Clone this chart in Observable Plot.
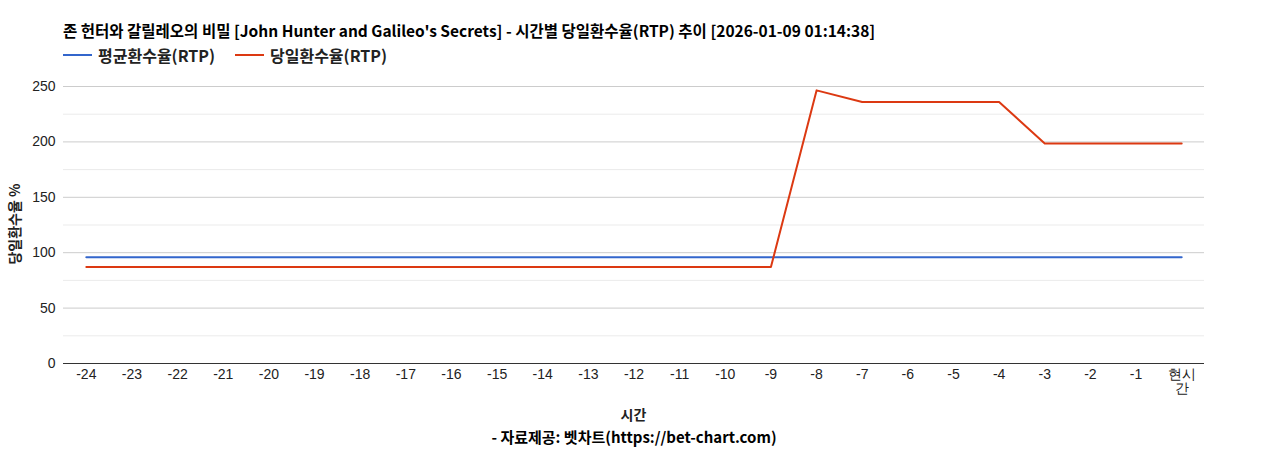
<!DOCTYPE html>
<html>
<head>
<meta charset="utf-8">
<script src="https://cdn.jsdelivr.net/npm/d3@7"></script>
<script src="https://cdn.jsdelivr.net/npm/@observablehq/plot@0.6"></script>
<style>
  html, body { margin: 0; padding: 0; background: #fff; }
  body { width: 1268px; height: 450px; position: relative; overflow: hidden; font-family: "Noto Sans CJK KR", "Noto Sans", sans-serif; }
  #title { position: absolute; left: 63px; top: 19px; font-size: 15.5px; font-weight: bold; color: #000; white-space: nowrap; line-height: 22px; }
  #legend { position: absolute; left: 63px; top: 44px; font-size: 16px; font-weight: bold; color: #222; white-space: nowrap; line-height: 22px; display: flex; align-items: center; }
  .sw { display: inline-block; width: 29px; height: 2px; margin-right: 6px; }
  .item { display: flex; align-items: center; margin-right: 20px; }
  #chart { position: absolute; left: 0; top: 70px; }
  #xlabel { position: absolute; left: 63px; width: 1141px; text-align: center; top: 403px; font-size: 14px; font-weight: bold; color: #222; line-height: 22px; }
  #caption { position: absolute; left: 0; width: 1268px; text-align: center; top: 426px; font-size: 15px; font-weight: bold; color: #000; line-height: 22px; }
</style>
</head>
<body>
<div id="title"></div>
<div id="legend"></div>
<div id="chart"></div>
<div id="xlabel">시간</div>
<div id="caption">- 자료제공: 벳차트(https://bet-chart.com)</div>
<script>
const titleText = "존 헌터와 갈릴레오의 비밀 [John Hunter and Galileo's Secrets] - 시간별 당일환수율(RTP) 추이 [2026-01-09 01:14:38]";
const hours = ["-24","-23","-22","-21","-20","-19","-18","-17","-16","-15","-14","-13","-12","-11","-10","-9","-8","-7","-6","-5","-4","-3","-2","-1","현시간"];
const avgRTP = [96,96,96,96,96,96,96,96,96,96,96,96,96,96,96,96,96,96,96,96,96,96,96,96,96];
const dailyRTP = [87,87,87,87,87,87,87,87,87,87,87,87,87,87,87,87,246.5,236,236,236,236,198.5,198.5,198.5,198.5];
const seriesNames = ["평균환수율(RTP)", "당일환수율(RTP)"];
const seriesColors = ["#3366cc", "#dc3912"];
const yTicks = [0, 50, 100, 150, 200, 250];
const yMinor = [25, 75, 125, 175, 225];

document.getElementById("title").textContent = titleText;
const legend = document.getElementById("legend");
seriesNames.forEach((n, i) => {
  const it = document.createElement("span");
  it.className = "item";
  it.innerHTML = `<span class="sw" style="background:${seriesColors[i]}"></span>${n}`;
  legend.appendChild(it);
});

const rows = [];
hours.forEach((h, i) => {
  rows.push({hour: h, value: avgRTP[i], series: seriesNames[0]});
  rows.push({hour: h, value: dailyRTP[i], series: seriesNames[1]});
});

const plot = Plot.plot({
  width: 1268,
  height: 340,
  marginLeft: 63,
  marginRight: 64,
  marginTop: 16,
  marginBottom: 47,
  style: {fontFamily: "'Liberation Sans', Arial, sans-serif", fontSize: "14px", color: "#222", background: "#fff"},
  x: {type: "point", domain: hours, padding: 0.5, round: false},
  y: {domain: [0, 250]},
  color: {domain: seriesNames, range: seriesColors},
  marks: [
    Plot.ruleY(yMinor, {stroke: "#ebebeb", strokeWidth: 1}),
    Plot.ruleY(yTicks.slice(1), {stroke: "#cccccc", strokeWidth: 1}),
    Plot.axisY({ticks: yTicks, tickSize: 0, tickPadding: 8, label: null, fill: "#222"}),
    Plot.axisX({tickSize: 0, tickPadding: 6, label: null, fill: "#222",
      tickFormat: d => d === "현시간" ? "현시\n간" : d}),
    Plot.lineY(rows, {x: "hour", y: "value", stroke: "series", strokeWidth: 2}),
    Plot.ruleY([0], {stroke: "#333", strokeWidth: 1})
  ]
});
document.getElementById("chart").appendChild(plot);

// rotated y label
const svg = d3.select(plot);
svg.append("text")
  .attr("transform", "translate(20,154) rotate(-90)")
  .attr("text-anchor", "middle")
  .attr("font-family", "'Noto Sans CJK KR', sans-serif")
  .attr("font-weight", "bold")
  .attr("font-size", 14)
  .attr("fill", "#222")
  .text("당일환수율 %");
</script>
</body>
</html>
